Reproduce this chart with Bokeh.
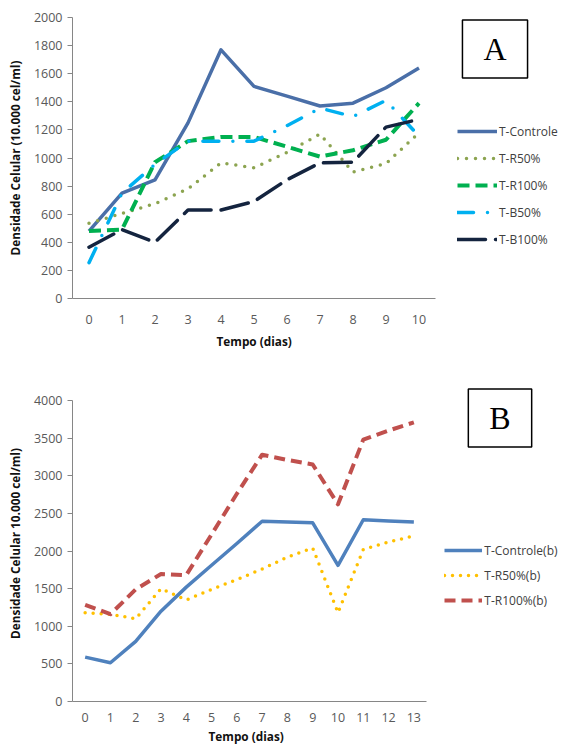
from bokeh.plotting import figure
from bokeh.models import Range1d, FixedTicker, Legend, LegendItem, Label, Title
from bokeh.layouts import column
from bokeh.embed import file_html
from bokeh.resources import INLINE

# ---------------- data ----------------
days_a = [0, 1, 2, 3, 4, 5, 6, 7, 8, 9, 10]
controle_a = [480, 750, 845, 1250, 1770, 1510, 1440, 1370, 1390, 1500, 1640]
r50_a = [535, 605, 675, 780, 965, 930, 1040, 1170, 900, 960, 1180]
r100_a = [480, 490, 970, 1120, 1150, 1150, 1080, 1010, 1055, 1130, 1390]
b50_a = [255, 750, 955, 1120, 1120, 1120, 1230, 1355, 1295, 1410, 1155]
b100_a = [365, 490, 400, 630, 630, 690, 845, 965, 970, 1220, 1275]
yticks_a = [0, 200, 400, 600, 800, 1000, 1200, 1400, 1600, 1800, 2000]

days_b = [0, 1, 2, 3, 4, 5, 6, 7, 8, 9, 10, 11, 12, 13]
controle_b = [590, 515, 800, 1200, 1520, 1810, 2100, 2395, 2385, 2375, 1810, 2415, 2400, 2385]
r50_b = [1180, 1160, 1100, 1500, 1350, 1490, 1620, 1760, 1920, 2040, 1180, 2020, 2120, 2200]
r100_b = [1285, 1160, 1490, 1695, 1680, 2220, 2760, 3280, 3210, 3150, 2620, 3480, 3600, 3710]
yticks_b = [0, 500, 1000, 1500, 2000, 2500, 3000, 3500, 4000]

FONT = "Open Sans"
AXIS_GRAY = "#868686"
TICK_GRAY = "#595959"


def style(p, yticks, ndays, ymax, ylabel):
    p.xgrid.visible = False
    p.ygrid.visible = False
    p.outline_line_color = None
    p.background_fill_color = "white"
    p.border_fill_color = "white"
    p.xaxis.ticker = FixedTicker(ticks=list(range(ndays)))
    p.yaxis.ticker = FixedTicker(ticks=yticks)
    p.xaxis.bounds = (-0.5, ndays - 0.5)
    p.yaxis.bounds = (0, ymax)
    for ax in (p.xaxis[0], p.yaxis[0]):
        ax.axis_line_color = AXIS_GRAY
        ax.axis_line_width = 1
        ax.major_tick_line_color = AXIS_GRAY
        ax.minor_tick_line_color = None
        ax.major_label_text_font = FONT
        ax.major_label_text_font_size = "12.5px"
        ax.major_label_text_color = TICK_GRAY
        ax.axis_label_text_font = FONT
        ax.axis_label_text_font_style = "bold"
        ax.axis_label_text_font_size = "11.8px"
        ax.axis_label_text_color = "#111111"
    p.xaxis.major_tick_out = 0
    p.xaxis.major_tick_in = 0
    p.yaxis.major_tick_out = 5
    p.yaxis.major_tick_in = 0
    p.yaxis.major_label_standoff = 5
    p.yaxis.axis_label = ylabel
    p.yaxis.axis_label_standoff = 8


def xlabel(p, offset, standoff):
    t = Title(text="Tempo (dias)", align="left", offset=offset, standoff=standoff,
              text_font=FONT, text_font_style="bold", text_font_size="11.8px",
              text_color="#111111")
    p.add_layout(t, "below")


# ---------------- chart A ----------------
# plot area: x 72..435 for 11 categories; frame extended right to hold legend and box
FA_W, FA_H = 490, 281
pxd_a = 363 / 11.0
pa = figure(output_backend="svg", toolbar_location=None,
            frame_width=FA_W, frame_height=FA_H,
            min_border_left=72, min_border_right=0,
            min_border_top=17, min_border_bottom=80,
            x_range=Range1d(-0.5, -0.5 + FA_W / pxd_a), y_range=Range1d(0, 2000))
style(pa, yticks_a, len(days_a), 2000, "Densidade Celular (10.000 cel/ml)")
pa.xaxis.major_label_standoff = 16
xlabel(pa, 144, 8)

la1 = pa.line(days_a, controle_a, line_color="#4A6FA8", line_width=3.5, line_join="round")
la2 = pa.line(days_a, r50_a, line_color="#8CA450", line_width=3.5, line_dash="0 9", line_cap="round", line_join="round")
la3 = pa.line(days_a, r100_a, line_color="#00B050", line_width=4, line_dash="12 6", line_join="round")
la4 = pa.line(days_a, b50_a, line_color="#00B0F0", line_width=3.5, line_dash="16 14 0 14", line_cap="round", line_join="round")
la5 = pa.line(days_a, b100_a, line_color="#14243F", line_width=3.5, line_dash="28 10", line_cap="round", line_join="round")

leg_a = Legend(items=[LegendItem(label="T-Controle", renderers=[la1]),
                      LegendItem(label="T-R50%", renderers=[la2]),
                      LegendItem(label="T-R100%", renderers=[la3]),
                      LegendItem(label="T-B50%", renderers=[la4]),
                      LegendItem(label="T-B100%", renderers=[la5])],
               location=(385, 49), orientation="vertical",
               glyph_width=40, glyph_height=20, label_height=20,
               label_standoff=2, spacing=7, padding=0, margin=0,
               background_fill_alpha=0, border_line_alpha=0,
               label_text_font=FONT, label_text_font_size="12px",
               label_text_color="#404040")
pa.add_layout(leg_a)

box_a = Label(x=422.5, y=249.5, x_units="screen", y_units="screen", text="A",
              text_font="Liberation Serif", text_font_size="32px", text_color="black",
              text_align="center", text_baseline="middle",
              border_line_color="black", border_line_width=1.5,
              background_fill_color="white", padding=(21, 11))
pa.add_layout(box_a)

# ---------------- chart B ----------------
FB_W, FB_H = 492, 316
pxd_b = 354 / 14.0
pxv_b = 301.0 / 4000.0
pb = figure(output_backend="svg", toolbar_location=None,
            frame_width=FB_W, frame_height=FB_H,
            min_border_left=70, min_border_right=0,
            min_border_top=7, min_border_bottom=46,
            x_range=Range1d(-0.5, -0.5 + FB_W / pxd_b), y_range=Range1d(0, FB_H / pxv_b))
style(pb, yticks_b, len(days_b), 4000, "Densidade Celular 10.000 cel/ml)")
pb.xaxis.major_label_standoff = 11
xlabel(pb, 136, 2)

lb1 = pb.line(days_b, controle_b, line_color="#4F81BD", line_width=3.5, line_join="round")
lb2 = pb.line(days_b, r50_b, line_color="#FFC000", line_width=3.5, line_dash="0 8", line_cap="round", line_join="round")
lb3 = pb.line(days_b, r100_b, line_color="#C0504D", line_width=4, line_dash="11 6", line_join="round")

leg_b = Legend(items=[LegendItem(label="T-Controle(b)", renderers=[lb1]),
                      LegendItem(label="T-R50%(b)", renderers=[lb2]),
                      LegendItem(label="T-R100%(b)", renderers=[lb3])],
               location=(375, 91), orientation="vertical",
               glyph_width=38, glyph_height=20, label_height=20,
               label_standoff=2, spacing=5, padding=0, margin=0,
               background_fill_alpha=0, border_line_alpha=0,
               label_text_font=FONT, label_text_font_size="12px",
               label_text_color="#404040")
pb.add_layout(leg_b)

box_b = Label(x=427.5, y=283.5, x_units="screen", y_units="screen", text="B",
              text_font="Liberation Serif", text_font_size="32px", text_color="black",
              text_align="center", text_baseline="middle",
              border_line_color="black", border_line_width=1.5,
              background_fill_color="white", padding=(21, 11))
pb.add_layout(box_b)

layout = column(pa, pb, spacing=0)
open("out.html", "w").write(file_html(layout, INLINE))
